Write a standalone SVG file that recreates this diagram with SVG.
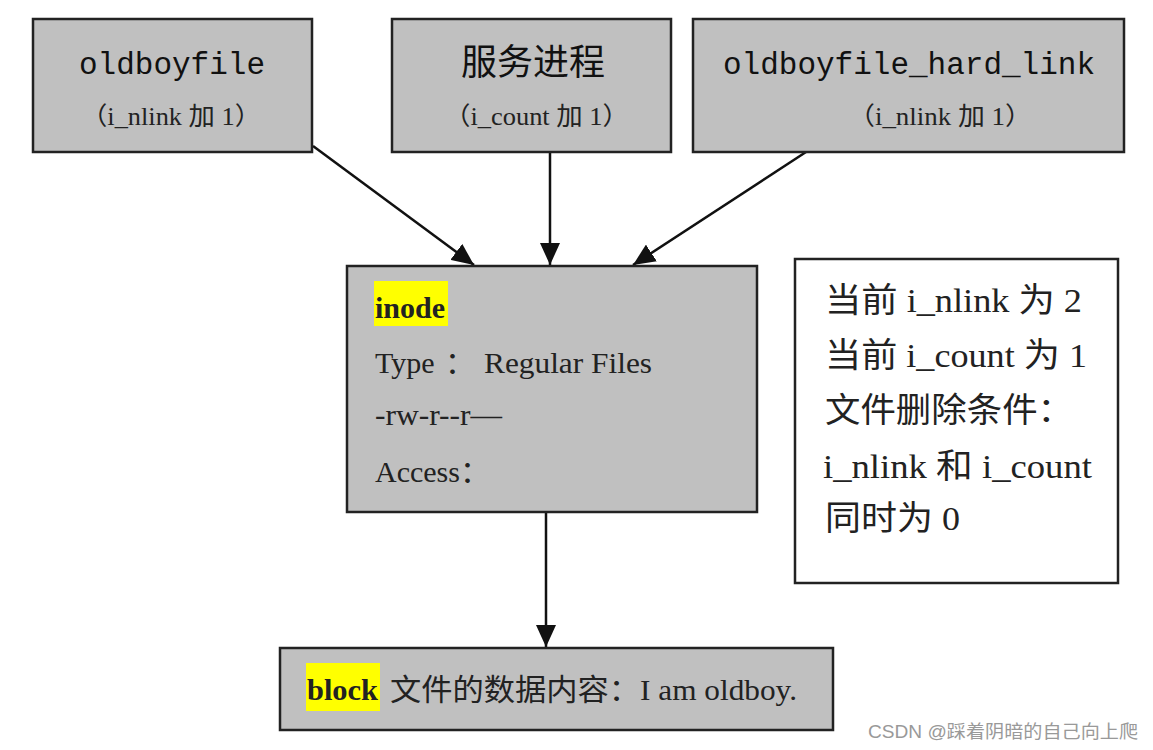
<svg xmlns="http://www.w3.org/2000/svg" width="1153" height="750" viewBox="0 0 1153 750">
<style>
.box{fill:#c0c0c0;stroke:#222;stroke-width:2.5}
.wbox{fill:#fff;stroke:#222;stroke-width:2.5}
.mono{font-family:"Liberation Mono","Noto Sans CJK SC",monospace;font-size:31px;fill:#111}
.cjkt{font-family:"Noto Sans CJK SC",sans-serif;font-size:36px;fill:#111}
.ser{font-family:"Liberation Serif","Noto Sans CJK SC",serif;fill:#222}
.sub{font-size:25px}
.in{font-size:30px}
.nt{font-size:34px}
.hl{fill:#ffff00}
.conn{stroke:#111;stroke-width:2.5;fill:none}
</style>
<defs>
<marker id="ah" viewBox="0 0 22 20" refX="22" refY="10" markerWidth="22" markerHeight="20" markerUnits="userSpaceOnUse" orient="auto">
<path d="M0,0 L22,10 L0,20 z" fill="#111"/>
</marker>
</defs>
<rect width="1153" height="750" fill="#fff"/>
<g id="connectors">
<line class="conn" x1="313" y1="146" x2="474" y2="265" marker-end="url(#ah)"/>
<line class="conn" x1="550" y1="152" x2="550" y2="265" marker-end="url(#ah)"/>
<line class="conn" x1="806" y1="152" x2="633" y2="265" marker-end="url(#ah)"/>
<line class="conn" x1="546" y1="512" x2="546" y2="647" marker-end="url(#ah)"/>
</g>
<g id="oldboyfile">
<rect class="box" x="33" y="19" width="279" height="133"/>
<text class="mono" x="172" y="74" text-anchor="middle">oldboyfile</text>
<text class="ser sub" x="81" y="125" textLength="180" lengthAdjust="spacingAndGlyphs">（i_nlink 加 1）</text>
</g>
<g id="service">
<rect class="box" x="392" y="19" width="279" height="133"/>
<text class="cjkt" x="533" y="75" text-anchor="middle">服务进程</text>
<text class="ser sub" x="444" y="125" textLength="185" lengthAdjust="spacingAndGlyphs">（i_count 加 1）</text>
</g>
<g id="hardlink">
<rect class="box" x="693" y="19" width="431" height="133"/>
<text class="mono" x="909" y="74" text-anchor="middle">oldboyfile_hard_link</text>
<text class="ser sub" x="848" y="125" textLength="184" lengthAdjust="spacingAndGlyphs">（i_nlink 加 1）</text>
</g>
<g id="inode">
<rect class="box" x="347" y="266" width="410" height="246"/>
<rect class="hl" x="374" y="281" width="74" height="45"/>
<text class="ser in" x="375" y="318" font-weight="bold" fill="#000">inode</text>
<text class="ser in" x="375" y="373">Type</text>
<text class="ser in" x="445" y="373">：</text>
<text class="ser in" x="484" y="373" textLength="168" lengthAdjust="spacingAndGlyphs">Regular Files</text>
<text class="ser in" x="375" y="425" textLength="127" lengthAdjust="spacingAndGlyphs">-rw-r--r—</text>
<text class="ser in" x="375" y="482">Access：</text>
</g>
<g id="note">
<rect class="wbox" x="795" y="259" width="323" height="324"/>
<text class="ser nt" x="825" y="312" textLength="257" lengthAdjust="spacingAndGlyphs">当前 i_nlink 为 2</text>
<text class="ser nt" x="825" y="367" textLength="262" lengthAdjust="spacingAndGlyphs">当前 i_count 为 1</text>
<text class="ser nt" x="825" y="422" textLength="248" lengthAdjust="spacingAndGlyphs">文件删除条件：</text>
<text class="ser nt" x="823" y="478" textLength="269" lengthAdjust="spacingAndGlyphs">i_nlink 和 i_count</text>
<text class="ser nt" x="825" y="530" textLength="135" lengthAdjust="spacingAndGlyphs">同时为 0</text>
</g>
<g id="block">
<rect class="box" x="280" y="648" width="553" height="82"/>
<rect class="hl" x="306" y="663" width="74" height="48"/>
<text class="ser in" x="307" y="700" font-weight="bold" fill="#000" textLength="71" lengthAdjust="spacingAndGlyphs">block</text>
<text class="ser in" x="390" y="700" textLength="407" lengthAdjust="spacingAndGlyphs">文件的数据内容：I am oldboy.</text>
</g>
<text x="868" y="738" textLength="270" lengthAdjust="spacingAndGlyphs" font-family="'Liberation Sans','Noto Sans CJK SC',sans-serif" font-size="18" fill="#999">CSDN @踩着阴暗的自己向上爬</text>
</svg>
